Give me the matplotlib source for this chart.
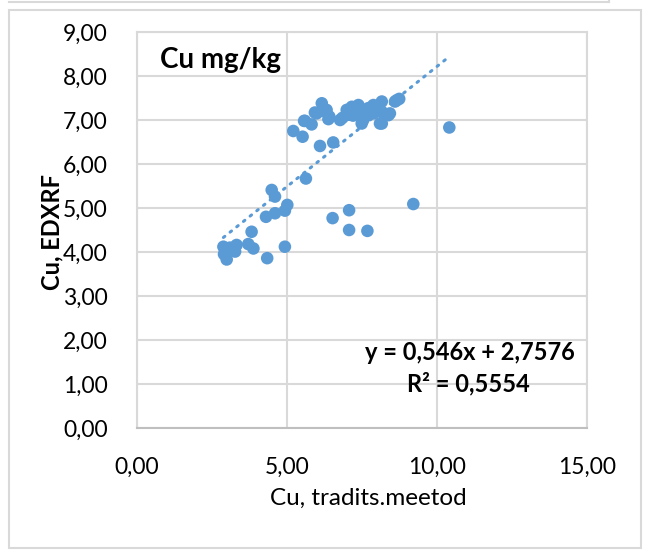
import numpy as np
import matplotlib
matplotlib.use('Agg')
from matplotlib import pyplot as plt
from matplotlib.patches import Rectangle
from matplotlib.ticker import FuncFormatter

# Cu: traditional method (x) vs EDXRF (y), mg/kg
cu_trad = [5.21, 5.52, 5.57, 5.82, 5.99, 6.16, 6.32, 6.41, 6.10, 6.54,
           6.77, 6.99, 7.16, 7.38, 7.49, 7.54, 7.71, 7.88, 8.10, 8.16,
           8.21, 8.38, 8.60, 8.74, 10.41, 5.60, 5.93, 6.38, 7.32, 7.49,
           7.88, 8.16, 8.43, 8.66, 7.05, 6.85, 7.65, 8.00, 6.25, 7.20,
           5.63, 4.49, 4.60, 5.01, 4.93, 4.60, 4.30, 3.82, 3.71, 3.88,
           4.93, 4.34, 2.88, 3.04, 3.32, 3.27, 2.99, 2.90, 3.10, 9.21,
           7.07, 6.52, 7.07, 7.68]
cu_edxrf = [6.75, 6.62, 6.98, 6.90, 7.15, 7.38, 7.23, 7.08, 6.41, 6.49,
            7.00, 7.23, 7.30, 7.34, 7.19, 7.00, 7.27, 7.15, 6.92, 7.42,
            7.15, 7.11, 7.42, 7.48, 6.83, 6.98, 7.17, 7.02, 7.23, 6.92,
            7.34, 6.92, 7.15, 7.45, 7.12, 7.05, 7.10, 7.20, 7.20, 7.10,
            5.67, 5.41, 5.26, 5.07, 4.94, 4.88, 4.80, 4.46, 4.18, 4.08,
            4.12, 3.86, 4.12, 4.05, 4.16, 4.01, 3.83, 3.95, 4.10, 5.09,
            4.95, 4.77, 4.50, 4.48]

slope = 0.546
intercept = 2.7576
eq_text = 'y = 0,546x + 2,7576'
r2_text = 'R² = 0,5554'

x_ticks = [0, 5, 10, 15]
y_ticks = [0, 1, 2, 3, 4, 5, 6, 7, 8, 9]

blue = '#5B9BD5'
grid_grey = '#D9D9D9'

plt.rcParams['font.family'] = ['Lato', 'DejaVu Sans']

W, H = 648, 551
fig = plt.figure(figsize=(W / 100, H / 100), dpi=100)

# chart frame (and the edge of the chart above)
fig.add_artist(Rectangle((9 / W, 1 - 548 / H), 632 / W, 538 / H,
                         transform=fig.transFigure, fill=False,
                         edgecolor=grid_grey, lw=1.5))
fig.add_artist(plt.Line2D([9 / W, 609 / W], [1 - 2 / H, 1 - 2 / H],
                          transform=fig.transFigure, color=grid_grey, lw=1.5))
fig.add_artist(plt.Line2D([609 / W, 609 / W], [1 - 2 / H, 1.0],
                          transform=fig.transFigure, color=grid_grey, lw=1.5))

ax = fig.add_axes([137 / W, 1 - 428 / H, 450 / W, 396 / H])
ax.set_xlim(0, 15)
ax.set_ylim(0, 9)
ax.set_xticks(x_ticks)
ax.set_yticks(y_ticks)
fmt = FuncFormatter(lambda v, p: '{:.2f}'.format(v).replace('.', ','))
ax.xaxis.set_major_formatter(fmt)
ax.yaxis.set_major_formatter(fmt)
ax.grid(True, color=grid_grey, lw=1.5)
ax.set_axisbelow(True)
for s in ax.spines.values():
    s.set_color(grid_grey)
    s.set_linewidth(1.5)
ax.spines['bottom'].set_color('#BFBFBF')
ax.tick_params(length=0, labelsize=16.5, colors='black')
ax.tick_params(axis='x', pad=21)
ax.tick_params(axis='y', pad=21)

ax.scatter(cu_trad, cu_edxrf, s=82, color=blue, edgecolors='none', zorder=3)

# linear trendline over the data range
xt = np.array([min(cu_trad), max(cu_trad)])
ax.plot(xt, slope * xt + intercept, color=blue, lw=2.2, linestyle=(0, (0.6, 2.2)),
        dash_capstyle='round', zorder=2)

fig.text(160 / W, 1 - 60 / H, 'Cu mg/kg', fontsize=20, fontweight='bold',
         ha='left', va='center')
fig.text(470 / W, 1 - 352 / H, eq_text, fontsize=17, fontweight='bold',
         ha='center', va='center')
fig.text(468 / W, 1 - 384 / H, r2_text, fontsize=17, fontweight='bold',
         ha='center', va='center')

fig.text(368 / W, 1 - 498 / H, 'Cu, tradits.meetod', fontsize=17.5,
         ha='center', va='center')
fig.text(52 / W, 1 - 232 / H, 'Cu, EDXRF', fontsize=17, fontweight='bold',
         rotation=90, ha='center', va='center')

plt.savefig('out.png', dpi=100)
